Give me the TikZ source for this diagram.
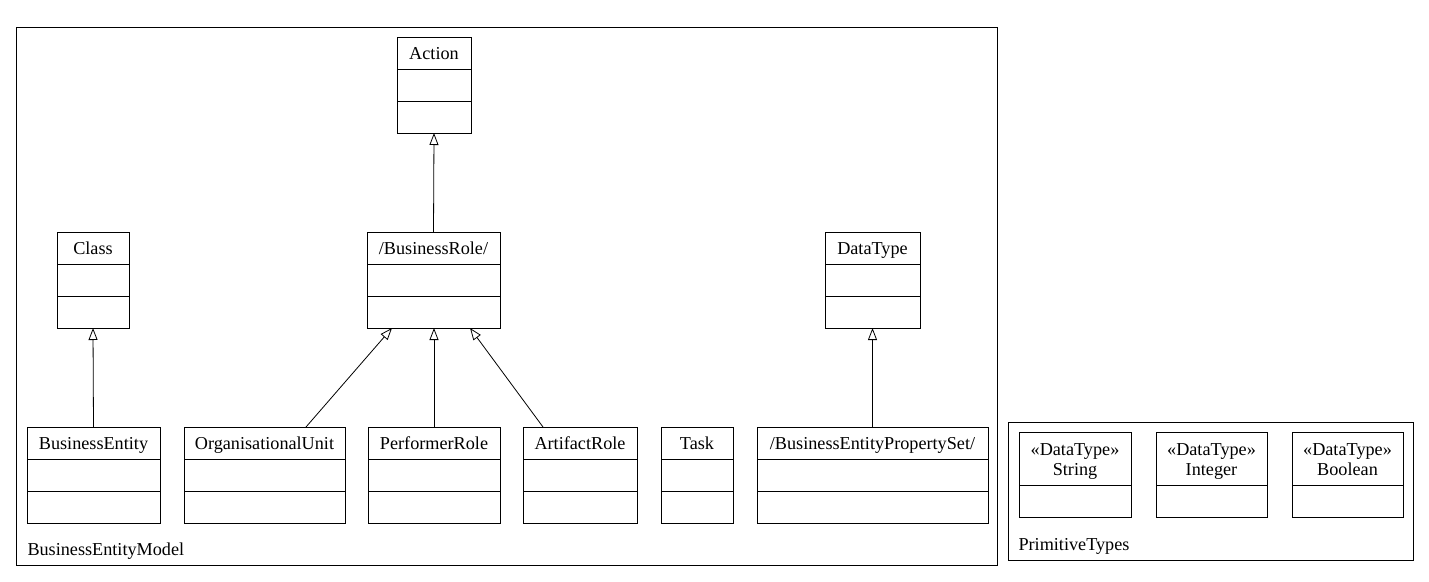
\documentclass[tikz,border=0pt]{standalone}
\usepackage{fontspec}
\setmainfont{Liberation Serif}
\usetikzlibrary{arrows.meta}

% Class box: name, left, top, right, bottom
\newcommand\umlbox[5]{%
  \node[classbox, minimum width={(#4-#2)*1pt}, minimum height={(#5-#3)*1pt}]
    (#1) at ({(#2+#4)/2},{(#3+#5)/2}) {};
}
% Three-compartment class: header plus two empty compartments
\newcommand\umlthree[6]{%
  \umlbox{#1}{#2}{#3}{#4}{#5}
  \node[classtitle] at ([yshift=-22.5pt]#1.north) {#6};
  \draw ([yshift=-32pt]#1.north west) -- ([yshift=-32pt]#1.north east);
  \draw ([yshift=-64pt]#1.north west) -- ([yshift=-64pt]#1.north east);
}
% Stereotyped data type: two-line header plus one empty compartment
\newcommand\umldatatype[6]{%
  \umlbox{#1}{#2}{#3}{#4}{#5}
  \node[classtitle] at ([yshift=-23pt]#1.north) {«DataType»};
  \node[classtitle] at ([yshift=-43pt]#1.north) {#6};
  \draw ([yshift=-53pt]#1.north west) -- ([yshift=-53pt]#1.north east);
}

\begin{document}
\begin{tikzpicture}[x=1pt,y=-1pt,
  line width=1pt,
  font=\fontsize{18.2}{20}\selectfont,
  classbox/.style={draw, rectangle, inner sep=0pt, outer sep=0pt},
  classtitle/.style={anchor=base, inner sep=0pt},
  pkgframe/.style={draw, rectangle, inner sep=0pt, outer sep=0pt},
  pkglabel/.style={anchor=base west, inner sep=0pt},
  generalization/.style={-{Triangle[open, length=12pt, width=9pt]}, line width=0.8pt}]
\useasboundingbox (0,0) rectangle (1429,581);
\fill[white] (0,0) rectangle (1429,581);

% Packages
\node[pkgframe, minimum width=981pt, minimum height=538pt] (bem) at (506.5,296) {};
\node[pkglabel] (bemlabel) at (27,555) {BusinessEntityModel};
\node[pkgframe, minimum width=405pt, minimum height=138pt] (prim) at (1210.5,491) {};
\node[pkglabel] (primlabel) at (1018,550) {PrimitiveTypes};

% Upper classes
\umlthree{action}{397}{37}{471}{133}{Action}
\umlthree{class}{57}{232}{129}{328}{Class}
\umlthree{brole}{367}{232}{500}{328}{/BusinessRole/}
\umlthree{dtype}{825}{232}{920}{328}{DataType}

% Lower classes
\umlthree{bent}{27}{427}{160}{523}{BusinessEntity}
\umlthree{ounit}{184}{427}{345}{523}{OrganisationalUnit}
\umlthree{prole}{368}{427}{500}{523}{PerformerRole}
\umlthree{arole}{523}{427}{637}{523}{ArtifactRole}
\umlthree{task}{661}{427}{733}{523}{Task}
\umlthree{beps}{757}{427}{988}{523}{/BusinessEntityPropertySet/}

% Primitive types
\umldatatype{tstring}{1019}{432}{1131}{517}{String}
\umldatatype{tinteger}{1156}{432}{1267}{517}{Integer}
\umldatatype{tboolean}{1292}{432}{1403}{517}{Boolean}

% Generalizations
\draw[generalization] (brole.north) -- (action.south);
\draw[generalization] (bent.north) -- (class.south);
\draw[generalization] (beps.north) -- (dtype.south);
\draw[generalization] (prole.north) -- (prole.north |- brole.south);
\draw[generalization] ([xshift=-39pt]ounit.north east) -- ([xshift=-41.5pt]brole.south);
\draw[generalization] ([xshift=20pt]arole.north west) -- ([xshift=36.5pt]brole.south);
\end{tikzpicture}
\end{document}
